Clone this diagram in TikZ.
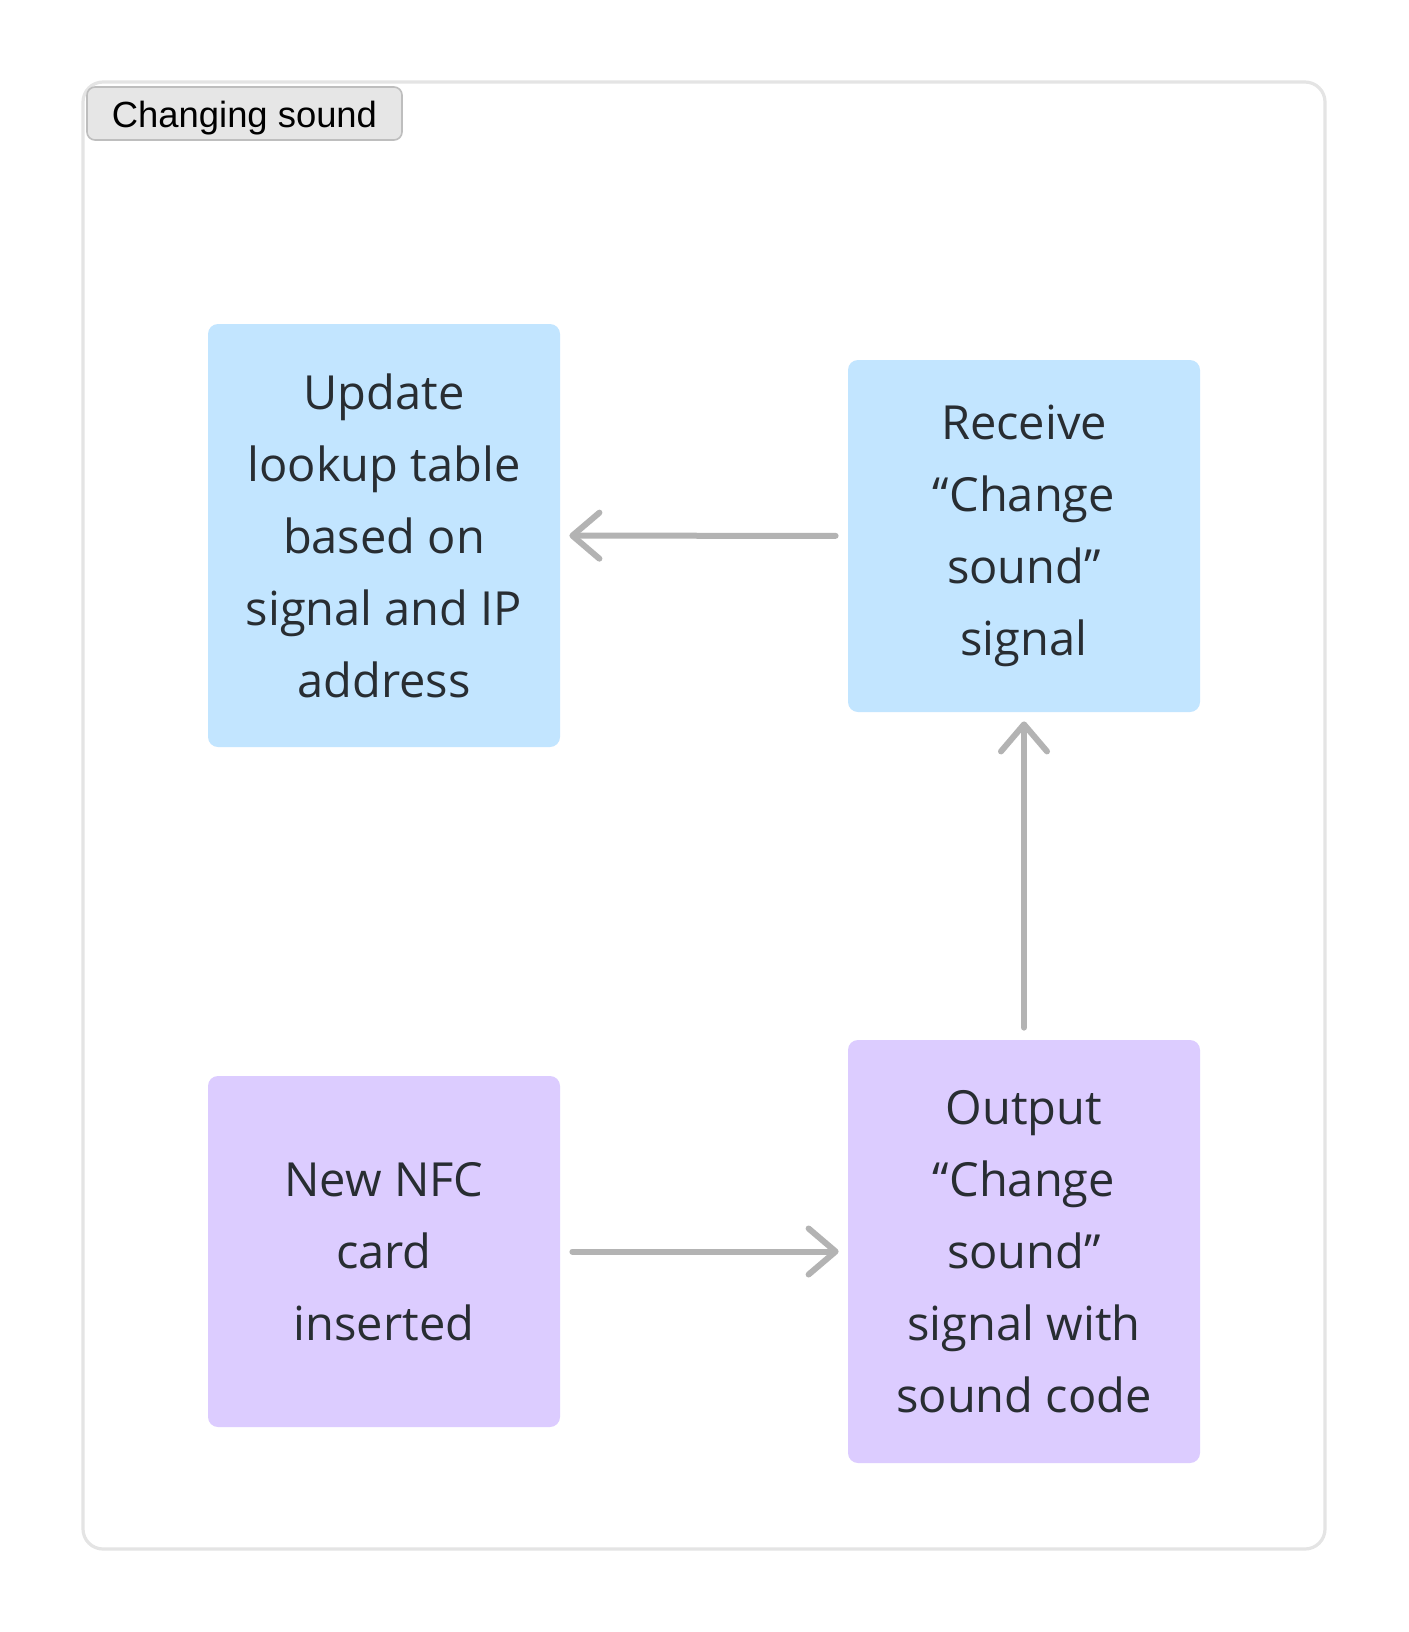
\documentclass[tikz,border=0pt]{standalone}
\usepackage{fontspec}
\setmainfont{Open Sans}
\newfontfamily\tagfont{Liberation Sans}
\usetikzlibrary{arrows.meta,positioning,calc}
\definecolor{stepblue}{RGB}{194,229,255}
\definecolor{steppurple}{RGB}{220,204,255}
\definecolor{steptext}{RGB}{40,45,50}
\definecolor{arrgray}{RGB}{179,179,179}
\definecolor{framegray}{RGB}{228,228,228}
\definecolor{tagfill}{RGB}{230,230,230}
\definecolor{tagline}{RGB}{190,190,190}

\begin{document}
\begin{tikzpicture}[
  x=0.5pt,y=-0.5pt,
  >={Straight Barb[length=13.5pt,width=23pt,round]},
  font=\fontsize{23.5}{36}\selectfont,
  stepbox/.style={rounded corners=5pt,align=center,text=steptext,
    minimum width=176pt,inner sep=0pt},
  recvbox/.style={stepbox,fill=stepblue},
  sendbox/.style={stepbox,fill=steppurple},
  arr/.style={->,line width=3pt,arrgray,line cap=round,
    shorten <=6pt,shorten >=4.5pt}
]
\useasboundingbox (0,0) rectangle (1408,1632);
\draw[framegray,line width=1.6pt,rounded corners=10pt,fill=white]
  (83,82) rectangle (1325,1549);
\node[draw=tagline,fill=tagfill,line width=0.8pt,rounded corners=4pt,
  minimum width=157.5pt,minimum height=26.5pt,inner sep=0pt,
  text height=13.5pt,text depth=0pt,
  font=\tagfont\fontsize{18.2}{22}\selectfont] (tag) at (244.5,113.5)
 {Changing sound};
\node[recvbox,minimum height=211.5pt] (upd) at (384,535.5)
 {Update\\ lookup table\\ based on\\ signal and IP\\ address};
\node[recvbox,minimum height=176pt] (recv) at (1024,536)
 {Receive\\ “Change\\ sound”\\ signal};
\node[sendbox,minimum height=175.5pt] (nfc) at (384,1251.5)
 {New NFC\\ card\\ inserted};
\node[sendbox,minimum height=211.5pt] (outp) at (1024,1251.5)
 {Output\\ “Change\\ sound”\\ signal with\\ sound code};
\draw[arr] (recv)--(upd);
\draw[arr] (outp)--(recv);
\draw[arr] (nfc)--(outp);
\end{tikzpicture}
\end{document}
